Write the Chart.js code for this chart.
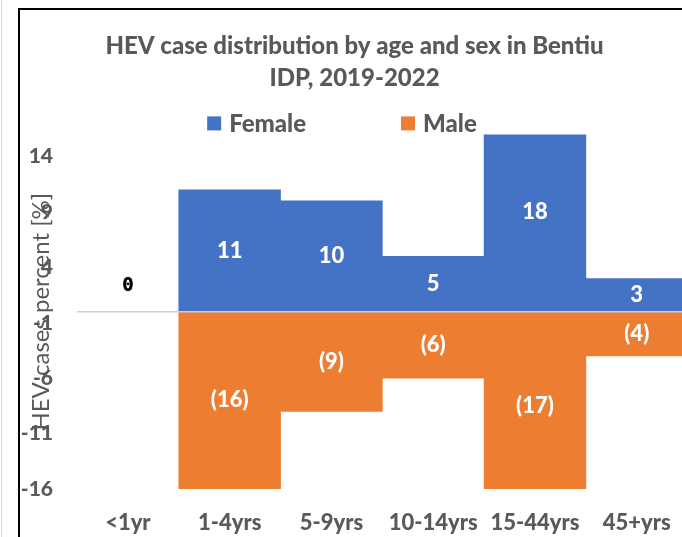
<!DOCTYPE html>
<html>
<head>
<meta charset="utf-8">
<script src="https://cdn.jsdelivr.net/npm/chart.js@4.4.0/dist/chart.umd.min.js"></script>
<style>
  html, body { margin: 0; padding: 0; background: #fff; overflow: hidden; width: 682px; height: 537px; }
  .frame { position: absolute; left: 0; top: 0; width: 682px; height: 537px; overflow: hidden; }
  .edge { position: absolute; left: 1px; top: 0; width: 1px; height: 537px; background: #d9d9d9; }
  .box { position: absolute; left: 18px; top: 8px; width: 700px; height: 560px; border-left: 2px solid #000; border-top: 2px solid #000; }
  .wrap { position: absolute; left: 20px; top: 10px; width: 672px; height: 540px; }
</style>
</head>
<body>
<div class="frame">
  <div class="edge"></div>
  <div class="box"></div>
  <div class="wrap"><canvas id="barCanvas" width="672" height="540"></canvas></div>
</div>
<script>
// données du graphique
const ageGroups = ['<1yr', '1-4yrs', '5-9yrs', '10-14yrs', '15-44yrs', '45+yrs'];
const femaleCases = [0, 11, 10, 5, 18, 3];
const maleCases = [0, -16, -9, -6, -17, -4];
const yTicks = [-16, -11, -6, -1, 4, 9, 14];

const gris = '#595959';
const police = 'Lato, "Open Sans", sans-serif';
const gras = 900;

// légende, ligne du zéro, titre de l'axe et étiquettes
const extras = {
  id: 'extras',
  afterDatasetsDraw(chart) {
    const ctx = chart.ctx;
    const area = chart.chartArea;
    const y = chart.scales.y;
    const zero = y.getPixelForValue(0);

    ctx.save();
    ctx.strokeStyle = '#d0d0d0';
    ctx.lineWidth = 1.5;
    ctx.beginPath();
    ctx.moveTo(area.left, zero);
    ctx.lineTo(area.right, zero);
    ctx.stroke();

    ctx.textAlign = 'center';
    ctx.textBaseline = 'middle';
    chart.data.datasets.forEach((ds, i) => {
      chart.getDatasetMeta(i).data.forEach((bar, j) => {
        const v = ds.data[j];
        if (v === 0) {
          ctx.fillStyle = '#000';
          ctx.font = 'bold 19px "DejaVu Sans Mono", monospace';
          ctx.fillText('0', bar.x, zero - 26);
          return;
        }
        ctx.fillStyle = '#fff';
        ctx.font = gras + ' 22px ' + police;
        const txt = v > 0 ? String(v) : '(' + (-v) + ')';
        ctx.fillText(txt, bar.x, (zero + y.getPixelForValue(v)) / 2);
      });
    });
    ctx.restore();
  },
  afterDraw(chart) {
    const ctx = chart.ctx;
    const area = chart.chartArea;
    ctx.save();
    // titre de l'axe y (superposé aux graduations comme dans l'original)
    ctx.translate(area.left - 36, (area.top + area.bottom) / 2);
    ctx.rotate(-Math.PI / 2);
    ctx.fillStyle = gris;
    ctx.font = '24px ' + police;
    ctx.textAlign = 'center';
    ctx.textBaseline = 'middle';
    ctx.fillText('HEV cases percent [%]', 0, 0);
    ctx.restore();

    // légende
    ctx.save();
    ctx.font = gras + ' 24px ' + police;
    ctx.textBaseline = 'middle';
    const ds = chart.data.datasets;
    const gap = 95;
    let total = 0;
    ds.forEach((d, i) => { total += 14 + 8 + ctx.measureText(d.label).width + (i ? gap : 0); });
    let x = chart.width / 2 - 14 - total / 2;
    const ly = area.top - 11;
    ds.forEach((d, i) => {
      if (i) x += gap;
      ctx.fillStyle = d.backgroundColor;
      ctx.fillRect(x, ly - 7, 14, 14);
      x += 22;
      ctx.fillStyle = gris;
      ctx.fillText(d.label, x, ly + 1);
      x += ctx.measureText(d.label).width;
    });
    ctx.restore();
  }
};

const barCanvas = document.getElementById('barCanvas');
const barChart = new Chart(barCanvas, {
  type: 'bar',
  data: {
    labels: ageGroups,
    datasets: [
      { label: 'Female', data: femaleCases, backgroundColor: '#4472C4', barPercentage: 1, categoryPercentage: 1 },
      { label: 'Male', data: maleCases, backgroundColor: '#ED7D31', barPercentage: 1, categoryPercentage: 1 }
    ]
  },
  options: {
    responsive: false,
    animation: false,
    devicePixelRatio: 1,
    layout: { padding: { left: 0, right: 3, top: 0, bottom: 0 } },
    plugins: {
      title: {
        display: true,
        text: ['HEV case distribution by age and sex in Bentiu', 'IDP, 2019-2022'],
        color: gris,
        font: { family: police, size: 24, weight: gras, lineHeight: 1.3 },
        padding: { top: 21, bottom: 41 }
      },
      legend: { display: false },
      tooltip: { enabled: false }
    },
    scales: {
      x: {
        stacked: true,
        grid: { display: false, drawTicks: false },
        border: { display: false },
        ticks: { color: gris, font: { family: police, size: 22, weight: gras }, padding: 21, maxRotation: 0 },
        afterFit(scale) { scale.height = 61; }
      },
      y: {
        stacked: true,
        min: -16,
        max: 16,
        grid: { display: false, drawTicks: false },
        border: { display: false },
        afterBuildTicks(scale) { scale.ticks = yTicks.map(v => ({ value: v })); },
        ticks: { color: gris, font: { family: police, size: 21, weight: gras }, padding: 24 },
        afterFit(scale) { scale.width = 57; }
      }
    }
  },
  plugins: [extras]
});
</script>
</body>
</html>
